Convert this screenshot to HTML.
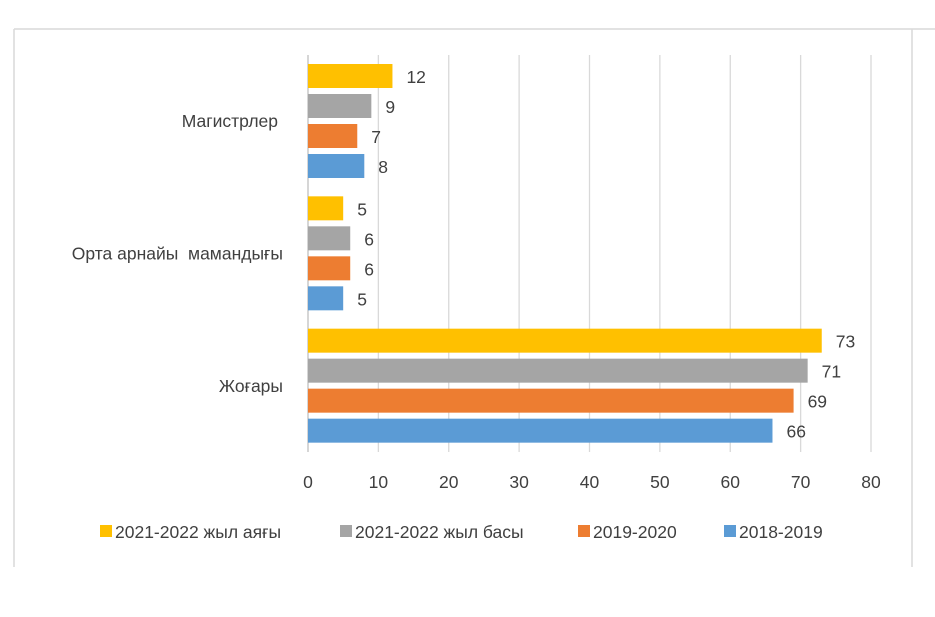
<!DOCTYPE html>
<html><head><meta charset="utf-8"><style>
body{margin:0;background:#fff;}
svg{display:block;font-family:"Liberation Sans","DejaVu Sans",sans-serif;}
text{white-space:pre;}
</style></head><body>
<svg id="c" width="935" height="617">
<line x1="14" y1="29" x2="935" y2="29" stroke="#d9d9d9" stroke-width="1.5"/>
<line x1="14" y1="29" x2="14" y2="567" stroke="#d9d9d9" stroke-width="1.5"/>
<line x1="912" y1="29" x2="912" y2="567" stroke="#d9d9d9" stroke-width="1.5"/>
<g id="grid"></g><g id="bars"></g><g id="labels"></g><g id="legend"></g>
</svg>
<script>
const categories = ["Магистрлер", "Орта арнайы  мамандығы", "Жоғары"];
const seriesNames = ["2021-2022 жыл аяғы", "2021-2022 жыл басы", "2019-2020", "2018-2019"];
const s2122end = [12, 5, 73];
const s2122start = [9, 6, 71];
const s1920 = [7, 6, 69];
const s1819 = [8, 5, 66];
const ticks = [0, 10, 20, 30, 40, 50, 60, 70, 80];
const colors = ["#ffc000", "#a5a5a5", "#ed7d31", "#5b9bd5"];
const series = [s2122end, s2122start, s1920, s1819];
const NS = "http://www.w3.org/2000/svg";
const x0 = 308, x1 = 871, yTop = 55, yBot = 452;
const xs = v => x0 + (v - ticks[0]) / (ticks[ticks.length-1] - ticks[0]) * (x1 - x0);
const band = (yBot - yTop) / categories.length;
function mk(tag, attrs, parent){const e=document.createElementNS(NS,tag);for(const k in attrs)e.setAttribute(k,attrs[k]);document.getElementById(parent).appendChild(e);return e;}
ticks.forEach(t=>{
  const l=mk("line",{x1:xs(t),x2:xs(t),y1:yTop,y2:yBot,stroke:t===0?"#bfbfbf":"#d9d9d9","stroke-width":1.3},"grid");
  
  
  const tx=mk("text",{x:xs(t),y:488,"text-anchor":"middle","font-size":17.5,fill:"#404040"},"grid");
  tx.textContent=t;
  
  
});
categories.forEach((c,i)=>{
  const by=yTop+band*i;
  const ct=mk("text",{x:i===0?278:283,y:by+band/2+6,"text-anchor":"end","font-size":17.5,fill:"#404040"},"labels");
  ct.textContent=c;
  
  
  series.forEach((s,j)=>{
    const y=by+9+j*30;
    const r=mk("rect",{x:x0,y:y,width:xs(s[i])-x0,height:24,fill:colors[j]},"bars");
    
    
    const vt=mk("text",{x:xs(s[i])+14,y:y+19,"font-size":17.5,fill:"#404040"},"labels");
    vt.textContent=s[i];
    
    
  });
});
const legX=[100,340,578,724];
seriesNames.forEach((n,j)=>{
  const r=mk("rect",{x:legX[j],y:525,width:12,height:12,fill:colors[j]},"legend");
  
  
  const t=mk("text",{x:legX[j]+15,y:538,"font-size":17.5,fill:"#404040"},"legend");
  t.textContent=n;
  
  
});
</script>
</body></html>
